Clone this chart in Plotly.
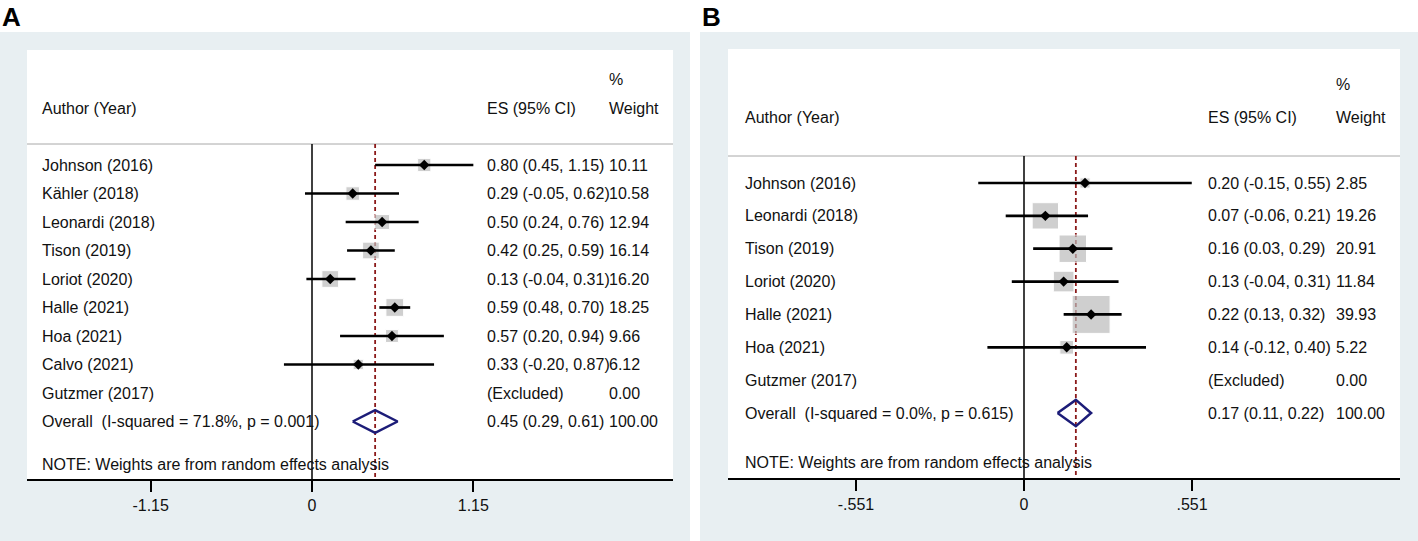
"""
Forest plots (A and B) of pooled effect sizes, rebuilt with plotly.
"""
import math
import plotly.graph_objs as go

# ---- panel A data ----
authors_a = ["Johnson (2016)", "Kähler (2018)", "Leonardi (2018)", "Tison (2019)",
             "Loriot (2020)", "Halle (2021)", "Hoa (2021)", "Calvo (2021)", "Gutzmer (2017)"]
es_a = [0.80, 0.29, 0.50, 0.42, 0.13, 0.59, 0.57, 0.33, None]
lo_a = [0.45, -0.05, 0.24, 0.25, -0.04, 0.48, 0.20, -0.20, None]
hi_a = [1.15, 0.62, 0.76, 0.59, 0.31, 0.70, 0.94, 0.87, None]
wt_a = [10.11, 10.58, 12.94, 16.14, 16.20, 18.25, 9.66, 6.12, 0.00]
overall_a = [0.45, 0.29, 0.61]
overall_label_a = "Overall  (I-squared = 71.8%, p = 0.001)"
ticks_a = [-1.15, 0, 1.15]
ticklabels_a = ["-1.15", "0", "1.15"]

# ---- panel B data ----
authors_b = ["Johnson (2016)", "Leonardi (2018)", "Tison (2019)", "Loriot (2020)",
             "Halle (2021)", "Hoa (2021)", "Gutzmer (2017)"]
es_b = [0.20, 0.07, 0.16, 0.13, 0.22, 0.14, None]
lo_b = [-0.15, -0.06, 0.03, -0.04, 0.13, -0.12, None]
hi_b = [0.55, 0.21, 0.29, 0.31, 0.32, 0.40, None]
wt_b = [2.85, 19.26, 20.91, 11.84, 39.93, 5.22, 0.00]
overall_b = [0.17, 0.11, 0.22]
overall_label_b = "Overall  (I-squared = 0.0%, p = 0.615)"
ticks_b = [-0.551, 0, 0.551]
ticklabels_b = ["-.551", "0", ".551"]

W, H = 1418, 541
FONT = "Liberation Sans, Arial, sans-serif"
BG = "#e8eff2"
BOX = "#bcbcbc"
NAVY = "#1c1c78"
RED = "#8b1a1a"


def px(x):
    return x / W


def py(y):
    return 1 - y / H


def panel(fig, n, authors, es, lo, hi, wt, overall, overall_label,
          box_k, text_x, header_row):
    xs = "x" if n == 1 else "x%d" % n
    ys = "y" if n == 1 else "y%d" % n
    rows = list(range(len(authors)))
    ov_row = len(authors)

    # confidence intervals
    cx, cy = [], []
    for r, l, h in zip(rows, lo, hi):
        if l is None:
            continue
        cx += [l, h, None]
        cy += [r, r, None]

    bx = [e for e in es if e is not None]
    by = [r for r, e in zip(rows, es) if e is not None]
    bs = [box_k * math.sqrt(w) for e, w in zip(es, wt) if e is not None]

    fig.add_trace(go.Scatter(x=bx, y=by, mode="markers", xaxis=xs, yaxis=ys,
                             marker=dict(symbol="square", size=bs, color=BOX),
                             hoverinfo="skip"))
    fig.add_trace(go.Scatter(x=cx, y=cy, mode="lines", xaxis=xs, yaxis=ys,
                             line=dict(color="black", width=2.7), hoverinfo="skip"))
    fig.add_trace(go.Scatter(x=bx, y=by, mode="markers", xaxis=xs, yaxis=ys,
                             marker=dict(symbol="diamond", size=8, color="black"),
                             hoverinfo="skip"))

    # overall diamond
    e, l, h = overall
    dh = 0.4
    fig.add_trace(go.Scatter(x=[l, e, h, e, l], y=[ov_row, ov_row - dh, ov_row, ov_row + dh, ov_row],
                             mode="lines", xaxis=xs, yaxis=ys,
                             line=dict(color=NAVY, width=2.5), hoverinfo="skip"))

    # header line, zero line, pooled estimate line
    yb = fig.layout["yaxis" if n == 1 else "yaxis%d" % n].range[0]
    fig.add_shape(type="line", xref=xs + " domain", yref=ys, x0=0, x1=1,
                  y0=header_row, y1=header_row, line=dict(color="#a8a8a8", width=1), layer="below")
    fig.add_shape(type="line", xref=xs, yref=ys, x0=0, x1=0, y0=header_row, y1=yb,
                  line=dict(color="black", width=1.5), layer="below")
    fig.add_shape(type="line", xref=xs, yref=ys, x0=e, x1=e, y0=header_row, y1=yb,
                  line=dict(color=RED, width=1.8, dash="4px,3px"), layer="below")

    # text columns
    lx, ex, wx = text_x
    tf = dict(family=FONT, size=16, color="#111111")

    def txt(x, y, s):
        fig.add_annotation(x=px(x), y=y, xref="paper", yref=ys, text=s, showarrow=False,
                           xanchor="left", yanchor="middle", font=tf)

    txt(lx, -2, "Author (Year)")
    txt(ex, -2, "ES (95% CI)")
    txt(wx, -3, "%")
    txt(wx, -2, "Weight")
    for r, a, e_, l_, h_, w_ in zip(rows, authors, es, lo, hi, wt):
        txt(lx, r, a)
        if e_ is None:
            txt(ex, r, "(Excluded)")
        else:
            txt(ex, r, "%.2f (%.2f, %.2f)" % (e_, l_, h_))
        txt(wx, r, "%.2f" % w_)
    txt(lx, ov_row, overall_label)
    txt(ex, ov_row, "%.2f (%.2f, %.2f)" % tuple(overall))
    txt(wx, ov_row, "100.00")
    txt(lx, ov_row + 1.5, "NOTE: Weights are from random effects analysis")


fig = go.Figure()

axis_common = dict(showgrid=False, zeroline=False, showline=True, linecolor="black",
                   linewidth=2, ticks="outside", ticklen=11, tickwidth=2, tickcolor="black",
                   tickfont=dict(family=FONT, size=16, color="#111111"), fixedrange=True)

fig.update_layout(
    width=W, height=H,
    margin=dict(l=0, r=0, t=0, b=0),
    paper_bgcolor="white",
    plot_bgcolor="rgba(0,0,0,0)",
    showlegend=False,
    xaxis=dict(domain=[px(27), px(673)], range=[(27 - 312) / 140.3, (673 - 312) / 140.3],
               tickvals=ticks_a, ticktext=ticklabels_a, anchor="y", **axis_common),
    yaxis=dict(domain=[py(479), py(50)], range=[(479 - 165) / 28.5, (50 - 165) / 28.5],
               visible=False, anchor="x"),
    xaxis2=dict(domain=[px(728), px(1400)], range=[(728 - 1024) / 305.0, (1400 - 1024) / 305.0],
                tickvals=ticks_b, ticktext=ticklabels_b, anchor="y2", **axis_common),
    yaxis2=dict(domain=[py(478), py(49)], range=[(478 - 183) / 32.86, (49 - 183) / 32.86],
                visible=False, anchor="x2"),
)

# background panels
fig.add_shape(type="rect", xref="paper", yref="paper", x0=0, x1=px(690), y0=0, y1=py(32),
              fillcolor=BG, line=dict(width=0), layer="below")
fig.add_shape(type="rect", xref="paper", yref="paper", x0=px(700), x1=1, y0=0, y1=py(32),
              fillcolor=BG, line=dict(width=0), layer="below")
fig.add_shape(type="rect", xref="paper", yref="paper", x0=px(27), x1=px(673), y0=py(479), y1=py(50),
              fillcolor="white", line=dict(width=0), layer="below")
fig.add_shape(type="rect", xref="paper", yref="paper", x0=px(728), x1=px(1400), y0=py(478), y1=py(49),
              fillcolor="white", line=dict(width=0), layer="below")

panel(fig, 1, authors_a, es_a, lo_a, hi_a, wt_a, overall_a, overall_label_a,
      4.15, (40, 485, 607), (144 - 165) / 28.5)
panel(fig, 2, authors_b, es_b, lo_b, hi_b, wt_b, overall_b, overall_label_b,
      6.0, (743, 1206, 1334), (156 - 183) / 32.86)

# panel letters
for lab, x in [("A", 0), ("B", 700)]:
    fig.add_annotation(x=px(x), y=1, xref="paper", yref="paper", text="<b>%s</b>" % lab,
                       showarrow=False, xanchor="left", yanchor="top",
                       font=dict(family=FONT, size=26, color="black"))

# drop the default page margin so the figure sits at the window's corner
fig.write_html("out.html", config={"displayModeBar": False},
               post_script="document.body.style.margin='0px';")
